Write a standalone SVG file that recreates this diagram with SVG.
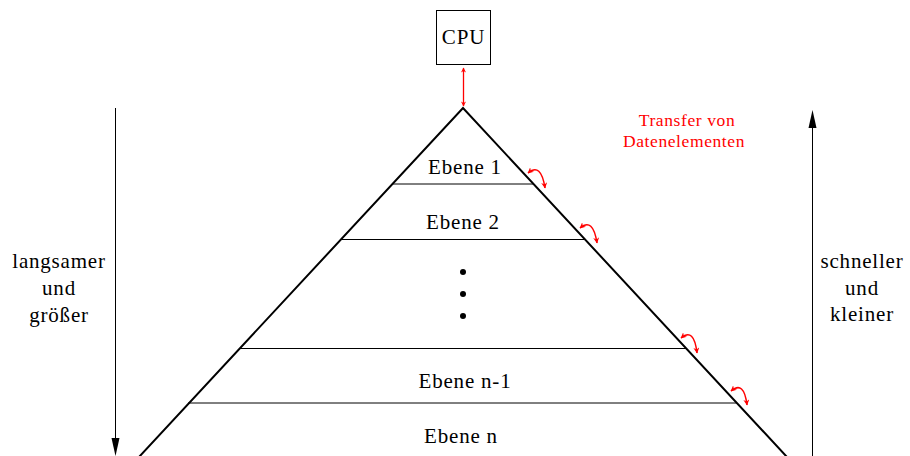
<svg xmlns="http://www.w3.org/2000/svg" width="910" height="456" viewBox="0 0 910 456">
  <style>
    .lbl { font-size: 21px; fill: #000; text-anchor: middle; letter-spacing: 0.8px; }
    .red { font-size: 17.5px; fill: #ff0000; text-anchor: middle; letter-spacing: 0.6px; }
    .side { stroke: #000; stroke-width: 2; fill: none; }
    .level { stroke: #000; stroke-width: 1; fill: none; }
    .xfer { stroke: #ff0000; stroke-width: 1.5; fill: none; }
    .axis { stroke: #000; stroke-width: 1; fill: none; }
  </style>
  <defs>
    <marker id="redHead" viewBox="0 0 10 10" refX="9" refY="5" markerWidth="6" markerHeight="6" markerUnits="userSpaceOnUse" orient="auto-start-reverse">
      <path d="M0,0 L10,5 L0,10 L3,5 Z" fill="#ff0000"/>
    </marker>
    <marker id="redHeadCpu" viewBox="0 0 10 10" refX="9" refY="5" markerWidth="7" markerHeight="5" markerUnits="userSpaceOnUse" orient="auto-start-reverse">
      <path d="M0,0 L10,5 L0,10 L3,5 Z" fill="#ff0000"/>
    </marker>
  </defs>

  <rect width="910" height="456" fill="#ffffff"/>

  <!-- CPU box -->
  <g id="cpu">
    <rect x="436.5" y="10.5" width="54" height="54" fill="#ffffff" stroke="#000" stroke-width="1"/>
    <text class="lbl" font-family="Liberation Serif, Times New Roman, serif" x="463.5" y="44">CPU</text>
  </g>

  <!-- memory pyramid outline -->
  <g id="pyramid">
    <path class="side" d="M139,457 L463,108 L787,457"/>
  </g>

  <g id="ebene1">
    <line class="level" x1="392" y1="184" x2="533" y2="184"/>
    <text class="lbl" font-family="Liberation Serif, Times New Roman, serif" x="465" y="174">Ebene 1</text>
  </g>
  <g id="ebene2">
    <line class="level" x1="342" y1="239.5" x2="584" y2="239.5"/>
    <text class="lbl" font-family="Liberation Serif, Times New Roman, serif" x="463" y="229">Ebene 2</text>
  </g>
  <g id="dots">
    <circle cx="463" cy="272" r="3" fill="#000"/>
    <circle cx="463" cy="294" r="3" fill="#000"/>
    <circle cx="463" cy="316" r="3" fill="#000"/>
  </g>
  <g id="ebene-n-1">
    <line class="level" x1="240" y1="348.5" x2="686" y2="348.5"/>
    <text class="lbl" font-family="Liberation Serif, Times New Roman, serif" x="465" y="388">Ebene n-1</text>
  </g>
  <g id="ebene-n">
    <line class="level" x1="188" y1="403" x2="737" y2="403"/>
    <text class="lbl" font-family="Liberation Serif, Times New Roman, serif" x="461" y="443">Ebene n</text>
  </g>

  <!-- side labels -->
  <g id="langsamer">
    <text class="lbl" font-family="Liberation Serif, Times New Roman, serif" x="59" y="268">langsamer</text>
    <text class="lbl" font-family="Liberation Serif, Times New Roman, serif" x="59" y="295">und</text>
    <text class="lbl" font-family="Liberation Serif, Times New Roman, serif" x="59" y="322">größer</text>
  </g>
  <g id="schneller">
    <text class="lbl" font-family="Liberation Serif, Times New Roman, serif" x="862" y="268">schneller</text>
    <text class="lbl" font-family="Liberation Serif, Times New Roman, serif" x="862" y="295">und</text>
    <text class="lbl" font-family="Liberation Serif, Times New Roman, serif" x="862" y="321">kleiner</text>
  </g>
  <g id="transfer">
    <text class="red" font-family="Liberation Serif, Times New Roman, serif" x="687" y="126">Transfer von</text>
    <text class="red" font-family="Liberation Serif, Times New Roman, serif" x="684" y="147">Datenelementen</text>
  </g>

  <!-- connectors -->
  <g id="connectors">
    <!-- CPU to top level -->
    <line x1="463.5" y1="68" x2="463.5" y2="106" stroke="#ff0000" stroke-width="1.3" marker-start="url(#redHeadCpu)" marker-end="url(#redHeadCpu)"/>
    <!-- transfers between adjacent levels -->
    <path class="xfer" d="M528,173 Q541,162 545,188" marker-start="url(#redHead)" marker-end="url(#redHead)"/>
    <path class="xfer" d="M580,228 Q593,217 597,243" marker-start="url(#redHead)" marker-end="url(#redHead)"/>
    <path class="xfer" d="M681,338 Q694,327 697,353" marker-start="url(#redHead)" marker-end="url(#redHead)"/>
    <path class="xfer" d="M731,391 Q744,380 747,405" marker-start="url(#redHead)" marker-end="url(#redHead)"/>
    <!-- speed / size axes -->
    <line class="axis" x1="115.5" y1="108" x2="115.5" y2="440"/>
    <polygon points="111.5,438 119.5,438 115.5,456" fill="#000"/>
    <line class="axis" x1="812.5" y1="126" x2="812.5" y2="456"/>
    <polygon points="808.5,128 816.5,128 812.5,110" fill="#000"/>
  </g>
</svg>
